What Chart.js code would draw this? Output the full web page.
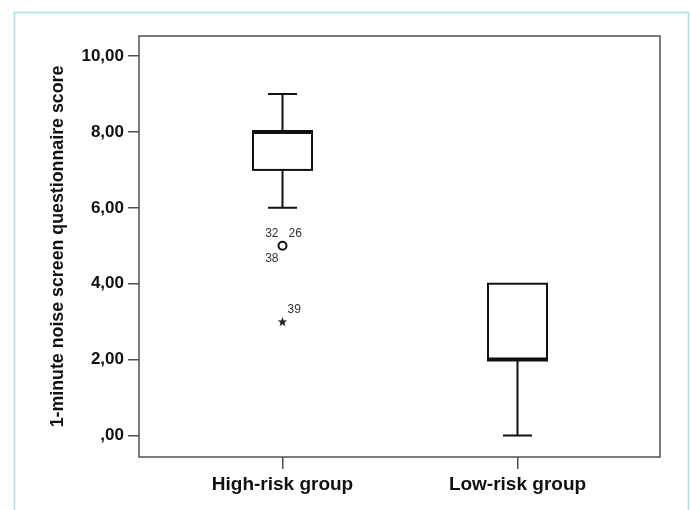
<!DOCTYPE html>
<html>
<head>
<meta charset="utf-8">
<script src="https://cdn.jsdelivr.net/npm/chart.js@4.4.1/dist/chart.umd.min.js"></script>
<style>
    html, body { margin: 0; padding: 0; background: #fff; }
    #wrap { width: 690px; height: 510px; position: relative; }
</style>
</head>
<body>
<div id="wrap"><canvas id="boxChart"></canvas></div>
<script>
// Data
const groups = ['High-risk group', 'Low-risk group'];
const whiskerLow = [6, 0];
const q1 = [7, 2];
const median = [8, 2];
const q3 = [8, 4];
const whiskerHigh = [9, 4];

// outliers (circle) and extremes (star), with case numbers
const outlierGroup = [0];
const outlierValue = [5];
const outlierCases = [['32', '26', '38']];
const extremeGroup = [0];
const extremeValue = [3];
const extremeCases = [['39']];

const yTicks = [0, 2, 4, 6, 8, 10];

const fmt = v => v === 0 ? ',00' : v.toFixed(2).replace('.', ',');

// small filled star used as point style for extremes
const starImg = document.createElement('canvas');
starImg.width = 11; starImg.height = 11;
(() => {
    const c = starImg.getContext('2d');
    c.fillStyle = '#222';
    c.beginPath();
    for (let i = 0; i < 10; i++) {
        const r = i % 2 === 0 ? 5 : 2.1;
        const a = -Math.PI / 2 + i * Math.PI / 5;
        const px = 5.5 + r * Math.cos(a), py = 5.9 + r * Math.sin(a);
        i === 0 ? c.moveTo(px, py) : c.lineTo(px, py);
    }
    c.closePath();
    c.fill();
})();

const boxPlugin = {
    id: 'boxPlugin',
    beforeDraw(chart) {
        const g = chart.ctx;
        g.save();
        g.strokeStyle = '#a3e3ea';
        g.lineWidth = 1.5;
        g.strokeRect(14.5, 12.5, 674, 600);
        g.restore();
    },
    beforeDatasetsDraw(chart) {
        const g = chart.ctx;
        const xs = chart.scales.x, ys = chart.scales.y;
        const boxW = 59, capW = 29;
        g.save();
        g.strokeStyle = '#111';
        g.lineCap = 'butt';
        groups.forEach((name, i) => {
            const cx = xs.getPixelForValue(i);
            const yLo = ys.getPixelForValue(whiskerLow[i]);
            const yHi = ys.getPixelForValue(whiskerHigh[i]);
            const y1 = ys.getPixelForValue(q1[i]);
            const y3 = ys.getPixelForValue(q3[i]);
            const ym = ys.getPixelForValue(median[i]);
            g.lineWidth = 2;
            // whiskers
            g.beginPath();
            if (whiskerHigh[i] > q3[i]) {
                g.moveTo(cx, y3); g.lineTo(cx, yHi);
                g.moveTo(cx - capW / 2, yHi); g.lineTo(cx + capW / 2, yHi);
            }
            if (whiskerLow[i] < q1[i]) {
                g.moveTo(cx, y1); g.lineTo(cx, yLo);
                g.moveTo(cx - capW / 2, yLo); g.lineTo(cx + capW / 2, yLo);
            }
            g.stroke();
            // box
            g.fillStyle = '#fff';
            g.fillRect(cx - boxW / 2, y3, boxW, y1 - y3);
            g.strokeRect(cx - boxW / 2, y3, boxW, y1 - y3);
            // median
            g.lineWidth = 4;
            g.beginPath();
            g.moveTo(cx - boxW / 2 - 1, ym); g.lineTo(cx + boxW / 2 + 1, ym);
            g.stroke();
        });
        g.restore();
    },
    afterDatasetsDraw(chart) {
        const g = chart.ctx;
        const xs = chart.scales.x, ys = chart.scales.y;
        g.save();
        g.font = '12px "Liberation Sans", Arial, sans-serif';
        g.fillStyle = '#333';
        g.textBaseline = 'middle';
        outlierValue.forEach((v, i) => {
            const px = xs.getPixelForValue(outlierGroup[i]);
            const py = ys.getPixelForValue(v);
            const spots = [[-4, -12, 'right'], [6, -12, 'left'], [-4, 13, 'right']];
            outlierCases[i].forEach((lab, k) => {
                const s = spots[k % spots.length];
                g.textAlign = s[2];
                g.fillText(lab, px + s[0], py + s[1]);
            });
        });
        extremeValue.forEach((v, i) => {
            const px = xs.getPixelForValue(extremeGroup[i]);
            const py = ys.getPixelForValue(v);
            g.textAlign = 'left';
            extremeCases[i].forEach((lab, k) => g.fillText(lab, px + 5, py - 12 + k * 13));
        });
        // frame
        const a = chart.chartArea;
        g.strokeStyle = '#505050';
        g.lineWidth = 1.5;
        g.strokeRect(a.left, a.top, a.right - a.left, a.bottom - a.top);
        g.restore();
    }
};

new Chart(document.getElementById('boxChart'), {
    type: 'scatter',
    data: {
        datasets: [{
            label: 'Outliers',
            data: outlierValue.map((v, i) => ({ x: outlierGroup[i], y: v })),
            pointStyle: 'circle',
            pointRadius: 4,
            borderWidth: 2,
            borderColor: '#111',
            backgroundColor: '#fff'
        }, {
            label: 'Extremes',
            data: extremeValue.map((v, i) => ({ x: extremeGroup[i], y: v })),
            pointStyle: starImg,
            pointRadius: 5
        }]
    },
    options: {
        responsive: true,
        maintainAspectRatio: false,
        animation: false,
        layout: { padding: { left: 0, top: 36, right: 30, bottom: 0 } },
        plugins: {
            legend: { display: false },
            tooltip: { enabled: false }
        },
        scales: {
            x: {
                type: 'linear',
                min: -0.6106,
                max: 1.6064,
                afterBuildTicks: s => { s.ticks = groups.map((g, i) => ({ value: i })); },
                afterFit: s => { s.height = 53; },
                border: { display: false },
                grid: { drawOnChartArea: false, drawTicks: true, tickLength: 12, color: '#505050', lineWidth: 1.5 },
                ticks: {
                    callback: v => groups[v],
                    color: '#111',
                    padding: 4,
                    maxRotation: 0,
                    font: { family: '"Liberation Sans", Arial, sans-serif', size: 19, weight: 'bold' }
                }
            },
            y: {
                min: -0.567,
                max: 10.53,
                afterBuildTicks: s => { s.ticks = yTicks.map(v => ({ value: v })); },
                afterFit: s => { s.width = 139; },
                border: { display: false },
                grid: { drawOnChartArea: false, drawTicks: true, tickLength: 11, color: '#505050', lineWidth: 1.5 },
                ticks: {
                    callback: v => fmt(v),
                    color: '#111',
                    padding: 4,
                    font: { family: '"Liberation Sans", Arial, sans-serif', size: 17, weight: 'bold' }
                },
                title: {
                    display: true,
                    text: '1-minute noise screen questionnaire score',
                    color: '#111',
                    padding: { top: 47, bottom: 0 },
                    font: { family: '"Liberation Sans", Arial, sans-serif', size: 17.8, weight: 'bold' }
                }
            }
        }
    },
    plugins: [boxPlugin]
});
</script>
</body>
</html>
